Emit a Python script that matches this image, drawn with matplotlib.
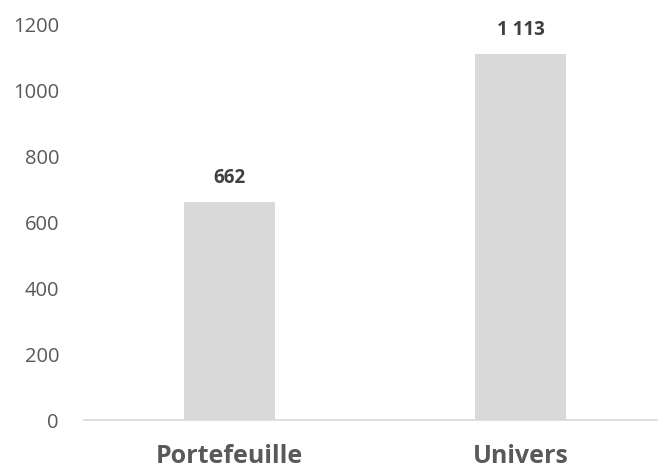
import matplotlib.pyplot as plt

categories = ["Portefeuille", "Univers"]
values = [662, 1113]
value_labels = ["662", "1 113"]
y_ticks = [0, 200, 400, 600, 800, 1000, 1200]

plt.rcParams['font.family'] = ['Open Sans', 'DejaVu Sans']
text_color = "#595959"

fig = plt.figure(figsize=(6.58, 4.72), dpi=100)
ax = fig.add_axes([84 / 658, 52 / 472, 574 / 658, 395 / 472])

x = range(len(categories))
bars = ax.bar(x, values, width=0.313, color="#D9D9D9")

# etiquettes de valeur au-dessus des barres
for bar, lab in zip(bars, value_labels):
    ax.annotate(lab, (bar.get_x() + bar.get_width() / 2, bar.get_height()),
                xytext=(0, 13.5), textcoords="offset points", ha="center", va="baseline",
                fontsize=13.5, fontweight="bold", color="#404040")

ax.set_xlim(-0.5, 1.4725)
ax.set_ylim(0, 1200)
ax.set_yticks(y_ticks)
ax.set_yticklabels([str(t) for t in y_ticks], fontsize=14.5, color=text_color)
ax.set_xticks(list(x))
ax.set_xticklabels(categories, fontsize=18, fontweight="bold", color=text_color)
ax.tick_params(axis="both", length=0)
ax.tick_params(axis="y", pad=18)
ax.tick_params(axis="x", pad=17.5)

for side in ["left", "right", "top"]:
    ax.spines[side].set_visible(False)
ax.spines["bottom"].set_color("#D9D9D9")
ax.spines["bottom"].set_linewidth(1.2)

fig.savefig("out.png", dpi=100)
